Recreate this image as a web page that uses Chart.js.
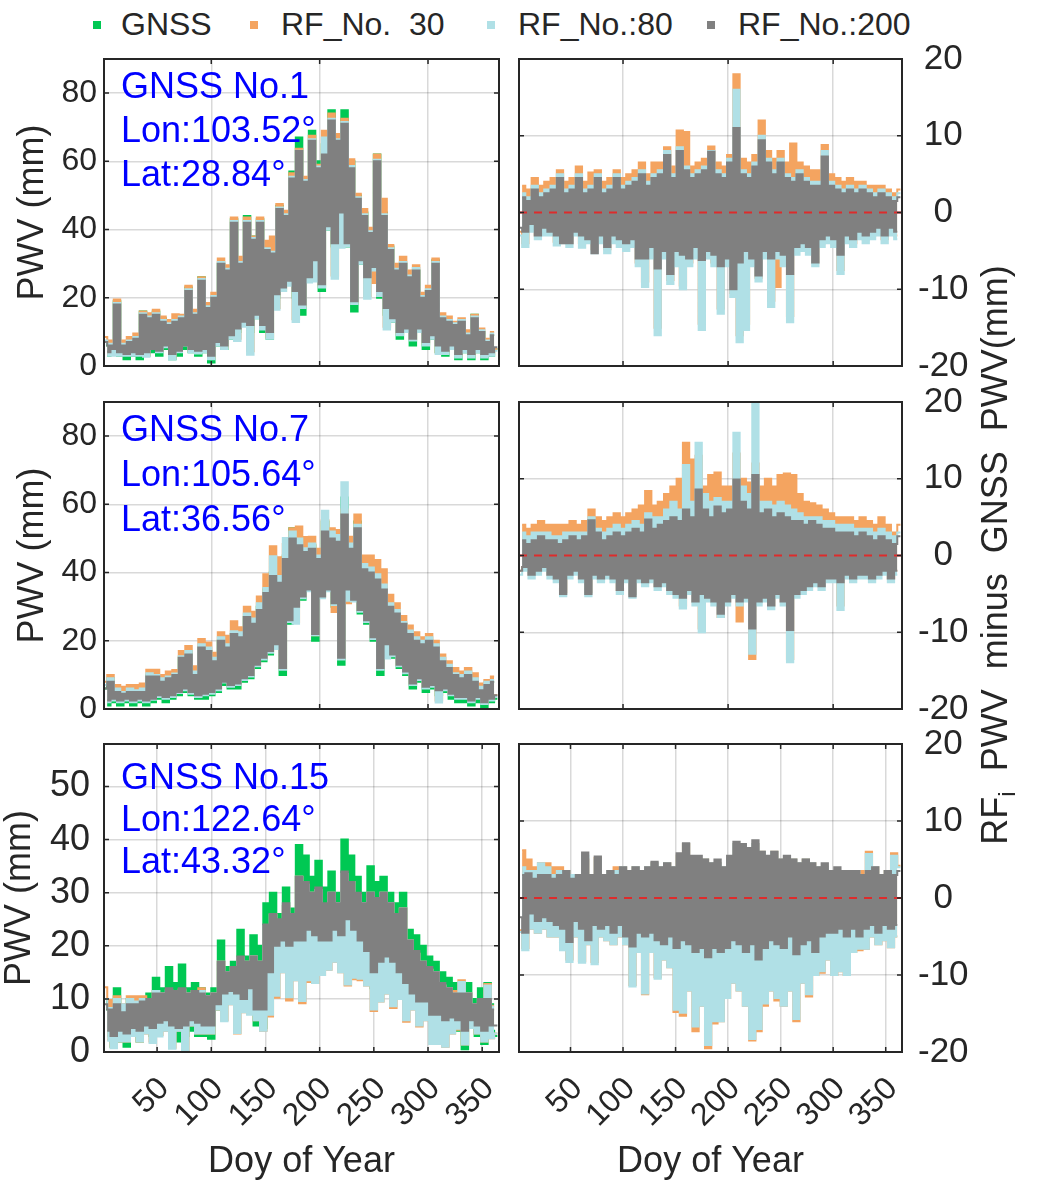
<!DOCTYPE html>
<html>
<head>
<meta charset="utf-8">
<title>PWV comparison</title>
<script src="https://cdn.jsdelivr.net/npm/chart.js@4.4.1/dist/chart.umd.min.js"></script>
<style>
    html, body { margin: 0; padding: 0; background: #ffffff; }
    body { position: relative; width: 1040px; height: 1182px; overflow: hidden;
           font-family: 'Liberation Sans', Arial, sans-serif; color: #262626; }
    canvas { position: absolute; }
    .legend-mark { position: absolute; width: 8px; height: 8px; }
    .legend-text { position: absolute; font-size: 32px; line-height: 32px; white-space: pre; }
    .station { position: absolute; left: 121px; color: #0000ff; font-size: 36px; white-space: pre; z-index: 2; }
    #right-title { position: absolute; left: 665px; top: 533px; width: 660px; height: 44px; line-height: 44px;
                   font-size: 36px; text-align: center; white-space: pre; transform: rotate(-90deg); z-index: 2; }
    #right-title sub { font-size: 24px; vertical-align: -8px; line-height: 0; }
</style>
</head>
<body>
<div id="right-title">RF<sub>i</sub>  PWV  minus  GNSS  PWV(mm)</div>
<script>
// day of year of every sample (one every third day)
const DAYS = [
    1, 4, 7, 10, 13, 16, 19, 22, 25, 28,
    31, 34, 37, 40, 43, 46, 49, 52, 55, 58,
    61, 64, 67, 70, 73, 76, 79, 82, 85, 88,
    91, 94, 97, 100, 103, 106, 109, 112, 115, 118,
    121, 124, 127, 130, 133, 136, 139, 142, 145, 148,
    151, 154, 157, 160, 163, 166, 169, 172, 175, 178,
    181, 184, 187, 190, 193, 196, 199, 202, 205, 208,
    211, 214, 217, 220, 223, 226, 229, 232, 235, 238,
    241, 244, 247, 250, 253, 256, 259, 262, 265, 268,
    271, 274, 277, 280, 283, 286, 289, 292, 295, 298,
    301, 304, 307, 310, 313, 316, 319, 322, 325, 328,
    331, 334, 337, 340, 343, 346, 349, 352, 355, 358, 361, 364
];

const SERIES_NAMES = ['GNSS', 'RF_No.  30', 'RF_No.:80', 'RF_No.:200'];
const STATION_NAMES = ['GNSS No.1', 'GNSS No.7', 'GNSS No.15'];
const STATION_LON = ['103.52', '105.64', '122.64'];
const STATION_LAT = ['28.84', '36.56', '43.32'];
const ZERO_REF = 0;

// PWV arrays (left panels) alternate (high, low) samples of the dense hourly band,
// difference arrays (right panels) alternate (low, high).

// ---- station No.1 ----
const GNSS_ST1 = [
    7, 3, 6, 4, 19, 3, 6, 2, 7, 3,
    8, 2, 16, 3, 15, 4, 16, 3, 14, 5,
    12, 2, 13, 3, 14, 5, 23, 4, 15, 3,
    26, 4, 17, 1, 20, 6, 30, 5, 29, 8,
    43, 10, 30, 12, 44, 10, 38, 14, 43, 10,
    35, 8, 33, 20, 47, 22, 45, 24, 57, 20,
    67, 15, 55, 25, 69, 30, 60, 22, 65, 40,
    75, 35, 68, 45, 75, 35, 60, 16, 50, 30,
    45, 25, 40, 28, 62, 20, 45, 15, 35, 13,
    28, 8, 30, 10, 26, 6, 28, 10, 20, 5,
    22, 8, 31, 4, 14, 3, 13, 5, 12, 2,
    13, 4, 9, 2, 15, 4, 10, 2, 7, 3, 9, 5
];
const RF200_ST1 = [
    7, 4, 6, 5, 18, 4, 6, 3.5, 7, 4,
    8, 3.5, 15, 4, 14, 5, 15, 4.5, 13, 6,
    12, 3.5, 13, 4.5, 14, 6, 22, 5, 15, 4.5,
    25, 5, 17, 3, 20, 7, 30, 6, 28, 9,
    42, 11, 30, 13, 42, 12, 37, 15, 42, 12,
    34, 10, 33, 21, 46, 23, 44, 25, 55, 22,
    63, 18, 54, 26, 66, 31, 58, 24, 62, 41,
    72, 36, 66, 45, 71, 36, 58, 19, 49, 31,
    44, 26, 39, 29, 60, 22, 44, 17, 34, 14,
    28, 10, 30, 11, 26, 8, 28, 11, 20, 7,
    22, 9, 30, 6, 14, 4.5, 13, 6, 12, 3.5,
    13, 5, 9, 3.5, 14, 5, 10, 3.5, 7, 4, 9, 5.5
];
const DIFF200_ST1 = [
    -2, 2, -2.5, 1.5, -1.5, 3, -3, 2, -2, 2.5,
    -2.5, 3, -3, 4.5, -4, 2.5, -4, 3, -2.5, 4.5,
    -3, 2.5, -3.5, 3, -5.3, 4.5, -3, 2.5, -4.5, 3,
    -3, 4.5, -3.5, 3, -4, 3.5, -3.5, 4, -6, 5,
    -6, 3.5, -4.5, 4.5, -7.3, 5, -5, 7.5, -8, 4.5,
    -5, 8, -5.5, 5.5, -6, 4.5, -4.5, 5, -6.2, 5.5,
    -5, 7.9, -5.5, 5, -7, 4.5, -6, 6.5, -10, 11,
    -6.5, 5, -5, 4.5, -6, 6, -8.2, 9.4, -5, 6.5,
    -6, 5, -5, 6.5, -5.5, 4.5, -8, 4, -4.5, 5,
    -4, 4, -4.5, 3.5, -6.5, 3.5, -3.5, 7.3, -3, 3.5,
    -3.5, 3, -5.5, 2.5, -3, 3, -3.5, 2.5, -2.5, 3,
    -3, 2.5, -2.5, 2, -2, 2.5, -3, 2, -2, 1.5, -2.5, 2
];
const DIFF80_ST1 = [
    -3, 2.5, -4.5, 2, -2.5, 3.5, -3.5, 2.5, -3, 3,
    -3, 3.5, -4.3, 5, -4, 3, -4.5, 3.5, -3, 5,
    -4.6, 3, -4, 3.5, -5.3, 5, -4, 3, -5.3, 3.5,
    -4, 5, -4.5, 3.5, -5, 4, -4.5, 4.5, -7, 5.5,
    -9.7, 4, -6, 5, -16, 5.5, -6, 8, -9.3, 5,
    -7, 8.5, -10, 6, -7, 5, -6, 5.5, -15.3, 6,
    -6, 8, -7, 5.5, -13.2, 5, -7, 7, -11, 16,
    -16.9, 5.5, -15.3, 5, -7, 6.5, -9, 10, -6, 7,
    -12.3, 5.5, -6, 7, -7, 5, -14.3, 4.5, -5.5, 5.5,
    -5, 4.5, -5.5, 4, -7, 4, -4.5, 8, -4, 4,
    -4.5, 3.5, -8, 3, -4, 3.5, -4.5, 3, -3.5, 3.5,
    -4, 3, -3.5, 2.5, -3, 3, -4, 2.5, -3, 2, -3.5, 2.5
];
const DIFF30_ST1 = [
    -2.5, 3.5, -4, 3, -2, 4.5, -3, 3.5, -2.5, 4,
    -2.5, 4.5, -3.8, 5.5, -3.5, 4, -4, 4.5, -2.5, 6,
    -4, 4, -3.5, 5.2, -4.8, 5.5, -3.5, 4, -4.8, 4.5,
    -3.5, 5.5, -4, 4.5, -4.5, 5, -4, 5.5, -6.5, 6.5,
    -9, 5, -5.5, 6.5, -15, 6.5, -5.5, 8.5, -8.8, 6,
    -6.5, 10.7, -9.5, 10.5, -6.5, 6, -5.5, 6.5, -14.5, 7,
    -5.5, 8.6, -6.5, 6.5, -12.5, 6, -6.5, 7.5, -10.5, 18,
    -16, 7, -14.5, 6.5, -6.5, 7.5, -8.5, 12, -5.5, 8,
    -11.5, 7, -9.7, 8, -6.5, 6.5, -13.5, 9, -5, 6.5,
    -4.5, 6, -5, 5.5, -6.5, 5.5, -4, 8.8, -3.5, 5,
    -4, 4.5, -7.5, 4, -3.5, 4.5, -4, 4, -3, 4,
    -3.5, 3.5, -3, 3.5, -2.5, 3.5, -3.5, 3, -2.5, 2.5, -3, 3
];

// ---- station No.7 ----
const GNSS_ST7 = [
    6, 1, 9, 2, 5, 1, 4, 2, 5, 1,
    5, 2, 5, 1, 10, 2, 10, 3, 8, 2,
    9, 3, 10, 4, 15, 5, 17, 4, 10, 3,
    18, 3, 17, 4, 14, 5, 20, 7, 18, 6,
    22, 6, 21, 8, 27, 9, 25, 12, 30, 14,
    35, 16, 40, 18, 38, 10, 45, 25, 53, 30,
    50, 32, 46, 35, 48, 20, 44, 33, 55, 35,
    52, 30, 50, 13, 62, 35, 48, 32, 55, 28,
    42, 25, 40, 20, 38, 10, 35, 18, 30, 15,
    28, 12, 25, 10, 22, 6, 20, 8, 19, 5,
    20, 6, 18, 4, 14, 5, 12, 3, 10, 2,
    9, 2, 10, 1, 8, 2, 5, 0.5, 7, 2, 8, 3
];
const RF200_ST7 = [
    6, 2.5, 8, 3, 5, 2.5, 4.5, 3, 5, 2.5,
    5, 3, 5, 2.5, 9.5, 3, 9.5, 4, 8, 3.5,
    9, 4, 10, 5, 15, 6, 16, 5, 10, 4,
    18, 4.5, 17, 5, 14, 6, 20, 8, 18, 7,
    22, 7.5, 21, 9, 27, 10, 25, 13, 29, 15,
    34, 17, 39, 19, 37, 12, 44, 26, 50, 30,
    48, 33, 46, 35, 47, 22, 44, 33, 52, 35,
    50, 31, 49, 15, 57, 35, 47, 32, 53, 29,
    41, 26, 40, 21, 38, 12, 35, 19, 30, 16,
    28, 13, 25, 11, 22, 7.5, 20, 9, 19, 6.5,
    20, 7, 18, 5.5, 14, 6, 12, 4.5, 10, 3.5,
    9, 3.5, 10, 2.5, 8, 3.5, 5.5, 2, 7, 3, 8, 4
];
const DIFF200_ST7 = [
    -2, 2, -1.5, 1.5, -2.5, 2, -2, 2.5, -1.5, 2,
    -2.5, 2, -3, 1.5, -5, 2, -2.5, 2.5, -2, 2,
    -3, 2.5, -5, 4.6, -2.5, 3, -3, 2, -2.5, 2.5,
    -3, 3, -4.5, 2.5, -3, 3, -5.3, 3.5, -3, 3,
    -3.5, 4.7, -3, 3.5, -4, 4, -3.5, 4.5, -4.5, 5,
    -5, 4.5, -5.5, 6, -4.5, 5, -6, 8.6, -5, 6,
    -5.5, 5, -6, 6.4, -7.6, 5.5, -6, 6, -5, 9.9,
    -6, 7, -5.5, 6, -9.5, 10.5, -6, 5.5, -5.5, 6,
    -6.5, 5, -5, 5.5, -6, 5, -9.7, 4.5, -5, 4.5,
    -4.5, 4, -4, 4.5, -3.5, 4, -4, 3.5, -3, 3.5,
    -3, 3, -3.5, 3, -2.5, 3, -3, 2.5, -2.5, 3,
    -2.5, 2.5, -3, 2, -2.5, 2.5, -2, 2, -3, 1.5, -2, 2.5
];
const DIFF80_ST7 = [
    -2.5, 3, -2, 2.5, -3, 3, -2.5, 3, -2, 3,
    -3, 2.5, -3.5, 2.5, -5.3, 3, -3, 3, -2.5, 3,
    -3.5, 3, -5.3, 5, -3, 3.5, -3.5, 3, -3, 3.5,
    -3.5, 4, -5, 3.5, -3.5, 4, -5.5, 4.5, -3.5, 4,
    -4, 5.5, -3.5, 5, -4.5, 5, -4, 6, -5, 7,
    -5.5, 6, -6.9, 11.8, -5, 7, -6.5, 14.7, -10, 8,
    -6, 7, -6.5, 7.5, -8, 7, -6.5, 7, -5.5, 16,
    -6.5, 9, -6, 8, -12.8, 20, -6.5, 7, -6, 7,
    -7, 6.5, -5.5, 7, -6.5, 6.5, -13.9, 6, -5.5, 5.5,
    -5, 5, -4.5, 5, -4, 5, -4.5, 4.5, -3.5, 4.5,
    -3.5, 4, -7.1, 4, -3, 4, -3.5, 3.5, -3, 3.5,
    -3, 3.5, -3.5, 3, -3, 3.5, -2.5, 3, -3.5, 2.5, -2.5, 3
];
const DIFF30_ST7 = [
    -2, 4, -1.5, 3.5, -2.5, 4, -2, 4.5, -1.5, 4,
    -2.5, 4, -3, 4, -4.8, 4, -2.5, 4.5, -2, 4,
    -3, 4.5, -4.8, 6, -2.5, 5, -3, 4.5, -2.5, 5,
    -3, 5.5, -4.5, 5, -3, 5.5, -5, 6, -3, 6.5,
    -3.5, 8.4, -3, 6.5, -4, 7, -3.5, 8, -4.5, 9,
    -5, 10, -6.5, 14.7, -4.5, 12.5, -6, 13, -9.5, 9,
    -5.5, 10.5, -6, 10.8, -8, 9, -6, 9, -5, 13.3,
    -8.6, 10, -5.5, 9.5, -13.5, 12, -6, 9, -5.5, 10,
    -6.5, 9, -5, 10.5, -6, 10.7, -13.5, 10.5, -5, 8,
    -4.5, 7, -4, 6.8, -3.5, 6.5, -4, 6, -3, 5.5,
    -3, 5, -6.5, 5, -2.5, 5, -3, 4.5, -2.5, 5,
    -2.5, 4.5, -3, 4, -2.5, 5, -2, 4, -3, 3, -2, 4
];

// ---- station No.15 ----
const GNSS_ST15 = [
    10, 3, 8, 1, 12, 2, 8, 1, 10, 3,
    9, 2, 10, 4, 11, 3, 14, 4, 12, 5,
    16, 3, 13, 2, 16.5, 3, 12, 4, 13, 3,
    12, 3, 11, 2.5, 12, 8, 21, 9, 16, 10,
    17, 9, 23, 8, 18, 10, 22, 5, 20, 4.5,
    28, 12, 30, 18, 26, 20, 31, 18, 27, 20,
    39, 18, 37, 22, 33, 20, 36, 19, 31, 20,
    34, 22, 30, 21, 40, 25, 37, 22, 33, 20,
    30, 18, 35, 12, 32, 15, 33, 17, 30, 15,
    28, 14, 30, 12, 23, 10, 22, 8, 20, 8,
    18, 5, 17, 6, 15, 4, 14, 5, 13, 4,
    12, 0.5, 13, 5, 10, 3, 12, 1.5, 13, 4, 9, 3
];
const RF200_ST15 = [
    9, 4, 8, 3, 9, 4, 7.5, 3.5, 9, 4.5,
    9, 4, 9.5, 5, 10, 4.5, 11, 5.5, 11, 6,
    12, 5, 11.5, 4.5, 12, 5, 11, 6, 11.5, 5.5,
    11, 5, 10.5, 5, 11, 9, 17, 11, 15, 11.5,
    16, 11, 18, 10, 17, 12, 18, 8, 17, 8,
    24, 15, 26, 20, 25, 21, 28, 20, 26, 21,
    33, 21, 32, 23, 30, 22, 31, 21, 28, 21,
    30, 23, 28, 22, 34, 25, 32, 23, 30, 21,
    28, 19, 30, 15, 29, 17, 30, 18, 28, 17,
    26, 15, 27, 13, 21, 11, 19, 9.5, 17, 9.5,
    16, 7, 15, 7, 13, 6, 12, 6.5, 11, 6,
    11, 4, 11, 6, 9, 5, 10, 4, 10, 5, 8, 5
];
const DIFF200_ST15 = [
    -2.5, 3, -4.5, 3.2, -2, 2.5, -3, 3, -2.5, 3,
    -3, 2.5, -3.5, 3, -4, 3.5, -5.7, 2.5, -3, 3,
    -4, 5.9, -5.5, 3, -3.5, 5.4, -4, 3, -3.5, 3.5,
    -4.5, 3, -3.5, 4, -5, 3.5, -6.3, 4, -4.5, 3.5,
    -5, 4, -4.5, 4.7, -5.5, 4, -6, 4.5, -5, 4,
    -6.5, 5.8, -5.5, 7.1, -6, 5.5, -7, 5.5, -6.5, 5,
    -7.7, 4.5, -6.5, 5, -7, 4, -6.5, 5.5, -5.5, 7.3,
    -6, 7, -7, 6.5, -6, 7.5, -8, 6, -6.5, 5.5,
    -5.5, 6, -6, 5, -6.5, 5.5, -5, 5, -7.3, 4.5,
    -6, 5, -5.5, 4.5, -7, 4, -5, 4.5, -4.5, 3.5,
    -4.5, 4, -4, 3.5, -5, 3.5, -4, 3.5, -5, 3,
    -4, 3.5, -3.5, 4, -4.5, 3, -3.5, 3.5, -4, 3, -3.5, 3.5
];
const DIFF80_ST15 = [
    -4.4, 4, -6.8, 3.5, -4, 3.5, -4.5, 4.5, -4, 4,
    -5, 3, -5, 3.5, -6.8, 3.5, -8.3, 3, -5, 3,
    -8.4, 5.5, -6, 3, -8.6, 5, -5, 3, -5.5, 3.5,
    -6, 3.5, -5, 4, -6, 3.5, -11.5, 4, -7, 3.5,
    -12.4, 4, -7, 4.5, -10.5, 4, -8, 4.5, -9, 4,
    -14.5, 5.5, -14.9, 7, -12, 5, -16.7, 5, -14, 5,
    -19.1, 4.5, -16, 4.5, -16, 4, -13, 5, -11, 7,
    -12, 7, -14, 6.5, -18.3, 7, -17, 6, -13.7, 5,
    -12, 6, -13, 5, -14, 5, -12, 5, -15.7, 4.5,
    -11, 5, -12.5, 4.5, -10, 4, -9.5, 4, -8, 3.5,
    -10, 3.5, -9.5, 3.5, -10, 3, -7, 3.5, -6.6, 3,
    -6.6, 5.7, -5, 4, -6, 3, -5.5, 3.5, -6.4, 5.5, -5, 4
];
const DIFF30_ST15 = [
    -4.2, 6.2, -6.5, 5, -4, 4, -4.5, 4.5, -4, 4.5,
    -5, 4, -5, 4, -6.5, 3.5, -8, 3, -5, 3,
    -8.2, 5, -6, 3, -8.3, 5.2, -5, 3, -5.5, 3.5,
    -6, 4, -5, 4, -6, 3.5, -11.3, 4, -7, 3.5,
    -12.5, 4, -7, 4.5, -10.3, 4, -8, 4.5, -9, 4,
    -14.8, 5.5, -15.3, 7, -12, 5, -17.3, 5, -14, 5,
    -19.5, 4.5, -16.3, 4.5, -16, 4, -13, 5, -11, 7,
    -12, 7, -14, 6.5, -18.5, 7, -17.3, 6, -14, 5,
    -12, 6, -13.3, 5, -14, 5, -12, 5, -16, 4.5,
    -11, 5, -12.8, 4.5, -10, 4, -9.7, 4, -8, 3.5,
    -10, 3.5, -9.5, 3.5, -10, 3, -7, 3.5, -6.8, 3.5,
    -6.6, 6, -5, 4, -6, 3, -5.5, 3.5, -6.4, 5.8, -5, 4.2
];

const STATIONS = [
    { gnss: GNSS_ST1, rf200: RF200_ST1, d30: DIFF30_ST1, d80: DIFF80_ST1, d200: DIFF200_ST1 },
    { gnss: GNSS_ST7, rf200: RF200_ST7, d30: DIFF30_ST7, d80: DIFF80_ST7, d200: DIFF200_ST7 },
    { gnss: GNSS_ST15, rf200: RF200_ST15, d30: DIFF30_ST15, d80: DIFF80_ST15, d200: DIFF200_ST15 },
];

const INK = '#262626';
const GRID = 'rgba(0, 0, 0, 0.15)';
const COLORS = ['#00c853', '#f4a460', '#b0e0e6', '#808080'];
const ZERO_COLOR = '#dd2c2c';
const FONT = "'Liberation Sans', Arial, sans-serif";
const X_MIN = 1;
const X_MAX = 365.5;

// panel geometry, one entry per row of the figure
const ROWS = [
    { top: 40, height: 350, padTop: 19, xHeight: 24, xLabels: false, xStep: 100, yMax: 90, yStep: 20,
      tickFont: 32, tickPad: 7, titlePad: 15.5, textTop: 64, textLine: 44 },
    { top: 378, height: 352, padTop: 24, xHeight: 21, xLabels: false, xStep: 100, yMax: 90, yStep: 20,
      tickFont: 32, tickPad: 7, titlePad: 15.5, textTop: 406, textLine: 45 },
    { top: 720, height: 462, padTop: 24, xHeight: 130, xLabels: true, xStep: 50, yMax: 58, yStep: 10,
      tickFont: 36, tickPad: 14, titlePad: 2, textTop: 756, textLine: 42 },
];

Chart.defaults.font.family = FONT;
Chart.defaults.color = INK;

// diff sample lying on the same envelope as PWV sample i
function sameEnvelope(diff, i) {
    return diff[i % 2 === 0 ? i + 1 : i - 1];
}

// other RF runs in the left panels: RF_No.:200 moved by their offset to it
function offsetFrom200(rf200, diff, diff200) {
    return rf200.map((v, i) => v + sameEnvelope(diff, i) - sameEnvelope(diff200, i));
}

// the hourly series look like a solid band: split the samples into the two
// alternating envelopes and fill between them
function bandSets(label, values, color) {
    const first = [];
    const second = [];
    values.forEach((v, i) => {
        (i % 2 === 0 ? first : second).push({ x: DAYS[i], y: v });
    });
    const common = {
        borderColor: color,
        backgroundColor: color,
        borderWidth: 2,
        stepped: 'middle',
        pointRadius: 0,
    };
    return [
        Object.assign({ label: label, data: first, fill: '+1' }, common),
        Object.assign({ label: label + ' b', data: second, fill: false }, common),
    ];
}

function zeroPad(scale) {
    scale.paddingLeft = 0;
    scale.paddingRight = 0;
    scale.paddingTop = 0;
    scale.paddingBottom = 0;
}

// black box round the plot plus small inward ticks
const framePlugin = {
    id: 'frame',
    afterDraw(chart) {
        const { ctx, chartArea: a, scales } = chart;
        ctx.save();
        ctx.strokeStyle = INK;
        ctx.lineWidth = 1.5;
        ctx.beginPath();
        for (const t of scales.x.ticks) {
            const px = scales.x.getPixelForValue(t.value);
            ctx.moveTo(px, a.bottom); ctx.lineTo(px, a.bottom - 5);
            ctx.moveTo(px, a.top); ctx.lineTo(px, a.top + 5);
        }
        for (const t of scales.y.ticks) {
            const py = scales.y.getPixelForValue(t.value);
            ctx.moveTo(a.left, py); ctx.lineTo(a.left + 5, py);
            ctx.moveTo(a.right, py); ctx.lineTo(a.right - 5, py);
        }
        ctx.stroke();
        ctx.lineWidth = 2;
        ctx.strokeRect(a.left, a.top, a.right - a.left, a.bottom - a.top);
        ctx.restore();
    }
};

function xScale(row) {
    return {
        type: 'linear',
        min: X_MIN,
        max: X_MAX,
        ticks: {
            display: row.xLabels, stepSize: row.xStep, includeBounds: false, autoSkip: false,
            minRotation: 45, maxRotation: 45, padding: 18, labelOffset: 7, color: INK, font: { size: 32 },
        },
        grid: { color: GRID, lineWidth: 1.5, drawTicks: false },
        border: { display: false },
        title: {
            display: row.xLabels, text: 'Doy of Year', color: INK,
            font: { size: 36, lineHeight: 1 }, padding: { top: 0, bottom: 2 },
        },
        afterFit(s) { s.height = row.xHeight; zeroPad(s); },
    };
}

function addCanvas(left, top, width, height) {
    const c = document.createElement('canvas');
    c.width = width;
    c.height = height;
    c.style.left = left + 'px';
    c.style.top = top + 'px';
    document.body.appendChild(c);
    return c;
}

function baseOptions(padding) {
    return {
        responsive: false,
        animation: false,
        events: [],
        layout: { padding: padding },
        plugins: { legend: { display: false }, tooltip: { enabled: false } },
    };
}

function makeLeftPanel(row, st) {
    const canvas = addCanvas(0, row.top, 505, row.height);
    const options = baseOptions({ top: row.padTop, right: 6, left: 0, bottom: 0 });
    options.scales = {
        x: xScale(row),
        y: {
            position: 'left',
            min: 0,
            max: row.yMax,
            ticks: { stepSize: row.yStep, includeBounds: false, padding: row.tickPad, color: INK, font: { size: row.tickFont } },
            grid: { color: GRID, lineWidth: 1.5, drawTicks: false },
            border: { display: false },
            title: {
                display: true, text: 'PWV (mm)', color: INK,
                font: { size: 36, lineHeight: 1 }, padding: { top: row.titlePad, bottom: 0 },
            },
            afterFit(s) { s.width = 104; zeroPad(s); },
        },
    };
    new Chart(canvas, {
        type: 'line',
        data: {
            // first dataset is painted last, so RF_No.:200 ends up on top
            datasets: [].concat(
                bandSets(SERIES_NAMES[3], st.rf200, COLORS[3]),
                bandSets(SERIES_NAMES[2], offsetFrom200(st.rf200, st.d80, st.d200), COLORS[2]),
                bandSets(SERIES_NAMES[1], offsetFrom200(st.rf200, st.d30, st.d200), COLORS[1]),
                bandSets(SERIES_NAMES[0], st.gnss, COLORS[0])
            )
        },
        options: options,
        plugins: [framePlugin],
    });
}

function makeRightPanel(row, st) {
    const canvas = addCanvas(512, row.top, 528, row.height);
    const options = baseOptions({ top: row.padTop, left: 7, right: 0, bottom: 0 });
    options.scales = {
        x: xScale(row),
        y: {
            position: 'right',
            min: -20,
            max: 20,
            ticks: { stepSize: 10, includeBounds: false, padding: 16, crossAlign: 'center', color: INK, font: { size: 35 } },
            grid: { color: GRID, lineWidth: 1.5, drawTicks: false },
            border: { display: false },
            afterFit(s) { s.width = 138; zeroPad(s); },
        },
    };
    const zeroLine = {
        label: 'zero',
        data: [{ x: X_MIN, y: ZERO_REF }, { x: X_MAX, y: ZERO_REF }],
        borderColor: ZERO_COLOR,
        borderWidth: 2,
        borderDash: [8, 7],
        pointRadius: 0,
        fill: false,
    };
    new Chart(canvas, {
        type: 'line',
        data: {
            datasets: [zeroLine].concat(
                bandSets(SERIES_NAMES[3], st.d200, COLORS[3]),
                bandSets(SERIES_NAMES[2], st.d80, COLORS[2]),
                bandSets(SERIES_NAMES[1], st.d30, COLORS[1])
            )
        },
        options: options,
        plugins: [framePlugin],
    });
}

function addText(cls, left, top, text, extraStyle) {
    const el = document.createElement('div');
    el.className = cls;
    el.style.left = left + 'px';
    el.style.top = top + 'px';
    if (extraStyle) Object.assign(el.style, extraStyle);
    el.textContent = text;
    document.body.appendChild(el);
    return el;
}

// legend along the top
const LEGEND_MARK_X = [93, 250, 487, 707];
const LEGEND_TEXT_X = [121, 281, 518, 738];
SERIES_NAMES.forEach((name, i) => {
    const mark = addText('legend-mark', LEGEND_MARK_X[i], 21, '');
    mark.style.background = COLORS[i];
    addText('legend-text', LEGEND_TEXT_X[i], 8, name);
});

ROWS.forEach((row, i) => {
    makeLeftPanel(row, STATIONS[i]);
    makeRightPanel(row, STATIONS[i]);
    const label = STATION_NAMES[i] + '\nLon:' + STATION_LON[i] + '°\nLat:' + STATION_LAT[i] + '°';
    addText('station', 121, row.textTop, label, { lineHeight: row.textLine + 'px' });
});
</script>
</body>
</html>
